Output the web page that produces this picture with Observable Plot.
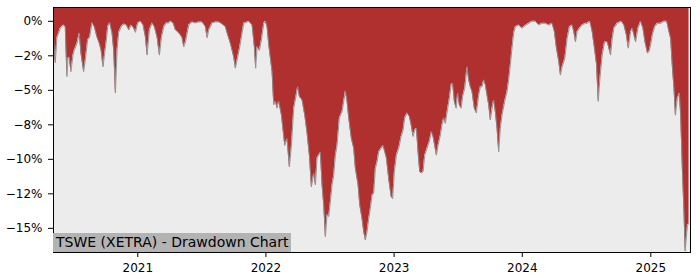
<!DOCTYPE html>
<html><head><meta charset="utf-8">
<script src="https://cdn.jsdelivr.net/npm/d3@7"></script>
<script src="https://cdn.jsdelivr.net/npm/@observablehq/plot@0.6"></script>
<style>
html,body{margin:0;padding:0;background:#fff;}
#chart{position:relative;width:700px;height:280px;}
#chart svg{position:absolute;left:0;top:0;}
#label{position:absolute;left:53px;top:233px;height:19px;line-height:19px;padding:0 3px;background:#b3b3b3;font-family:"DejaVu Sans";font-size:14px;color:#000;white-space:nowrap;z-index:2;}
</style></head><body>
<div id="chart"><div id="label">TSWE (XETRA) - Drawdown Chart</div></div>
<script>
// Dates as decimal years
const years = [
2020.345,2020.358,2020.371,2020.384,2020.397,2020.423,2020.436,2020.449,2020.457,2020.467,
2020.480,2020.496,2020.506,2020.527,2020.545,2020.558,2020.579,2020.592,2020.610,2020.626,
2020.644,2020.662,2020.683,2020.701,2020.715,2020.730,2020.743,2020.756,2020.766,2020.782,
2020.800,2020.813,2020.826,2020.839,2020.852,2020.871,2020.891,2020.912,2020.930,2020.949,
2020.969,2020.982,2021.000,2021.021,2021.042,2021.060,2021.073,2021.091,2021.112,2021.130,
2021.151,2021.169,2021.185,2021.203,2021.222,2021.242,2021.255,2021.276,2021.294,2021.315,
2021.333,2021.346,2021.359,2021.372,2021.398,2021.424,2021.450,2021.476,2021.502,2021.528,
2021.541,2021.554,2021.580,2021.606,2021.632,2021.658,2021.684,2021.697,2021.723,2021.749,
2021.762,2021.775,2021.796,2021.814,2021.827,2021.853,2021.866,2021.892,2021.910,2021.920,
2021.931,2021.949,2021.965,2021.983,2021.996,2022.009,2022.022,2022.030,2022.048,2022.061,
2022.074,2022.087,2022.100,2022.121,2022.147,2022.165,2022.183,2022.199,2022.217,2022.236,
2022.248,2022.261,2022.282,2022.303,2022.321,2022.339,2022.355,2022.373,2022.386,2022.399,
2022.412,2022.425,2022.438,2022.451,2022.464,2022.477,2022.490,2022.503,2022.516,2022.529,
2022.542,2022.555,2022.573,2022.594,2022.607,2022.620,2022.633,2022.646,2022.667,2022.685,
2022.698,2022.719,2022.732,2022.750,2022.763,2022.776,2022.789,2022.802,2022.815,2022.828,
2022.841,2022.854,2022.867,2022.880,2022.899,2022.914,2022.927,2022.940,2022.958,2022.977,
2022.989,2023.002,2023.018,2023.036,2023.055,2023.070,2023.083,2023.101,2023.119,2023.133,
2023.148,2023.161,2023.174,2023.187,2023.200,2023.213,2023.226,2023.239,2023.257,2023.275,
2023.291,2023.304,2023.317,2023.330,2023.343,2023.361,2023.374,2023.387,2023.400,2023.418,
2023.431,2023.445,2023.457,2023.470,2023.484,2023.496,2023.509,2023.523,2023.535,2023.551,
2023.569,2023.582,2023.595,2023.608,2023.626,2023.642,2023.660,2023.673,2023.686,2023.699,
2023.712,2023.725,2023.738,2023.751,2023.764,2023.777,2023.790,2023.803,2023.816,2023.829,
2023.842,2023.863,2023.881,2023.894,2023.907,2023.920,2023.933,2023.946,2023.972,2023.998,
2024.024,2024.050,2024.076,2024.102,2024.128,2024.154,2024.180,2024.206,2024.232,2024.250,
2024.266,2024.284,2024.297,2024.310,2024.331,2024.349,2024.367,2024.388,2024.401,2024.414,
2024.427,2024.445,2024.466,2024.492,2024.505,2024.526,2024.544,2024.562,2024.578,2024.591,
2024.604,2024.622,2024.640,2024.661,2024.674,2024.687,2024.700,2024.713,2024.739,2024.771,
2024.791,2024.810,2024.825,2024.843,2024.856,2024.869,2024.882,2024.900,2024.921,2024.939,
2024.955,2024.974,2024.986,2024.999,2025.012,2025.030,2025.052,2025.077,2025.103,2025.124,
2025.142,2025.155,2025.169,2025.181,2025.192,2025.207,2025.223,2025.233,2025.247,2025.259,
2025.268,2025.286,2025.298
];
// Drawdown in percent
const drawdown = [
-1.3,-3.0,-1.2,-0.85,-0.5,-0.27,-0.4,-4.0,-2.65,-2.6,
-3.65,-2.45,-2.1,-1.6,-0.85,-2.3,-3.65,-2.8,-1.35,-1.15,
-0.1,-0.4,-1.15,-1.6,-2.1,-3.3,-2.3,-1.35,-0.4,-0.1,
-0.85,-2.1,-5.2,-2.1,-0.8,-0.4,-0.2,-0.27,-0.63,-0.27,
-0.5,-0.8,-0.12,0,-0.27,-1.15,-2.45,-0.63,-0.12,-0.4,
-1.15,-2.45,-1.15,-0.4,-0.12,-0.12,0,-0.12,-0.63,-0.8,
-1.0,-1.2,-1.85,-1.5,-0.27,-0.05,-0.12,-0.05,-0.05,-0.4,
-1.2,-0.63,-0.12,-0.05,-0.05,-0.2,-0.4,-0.85,-1.6,-2.6,
-3.4,-2.8,-1.85,-0.85,-0.15,-0.05,0,-0.27,-1.85,-3.4,
-1.85,-2.1,-1.35,-0.15,0,-0.4,-1.7,-2.3,-3.65,-6.05,
-5.8,-6.3,-5.8,-6.8,-9.0,-8.5,-10.55,-9.0,-6.3,-5.35,
-4.75,-5.45,-5.7,-6.8,-8.1,-9.7,-12.0,-11.0,-11.85,-9.9,
-9.7,-9.5,-11.85,-13.3,-15.6,-14.0,-14.15,-13.05,-11.85,-11.15,
-9.7,-9.0,-7.0,-6.55,-5.8,-5.05,-5.8,-7.0,-8.5,-9.2,
-10.65,-11.85,-13.3,-14.3,-15.25,-15.85,-15.25,-14.3,-13.55,-12.6,
-12.45,-10.65,-10.2,-9.45,-9.2,-9.0,-9.45,-9.9,-11.4,-12.7,
-12.85,-10.9,-9.7,-9.2,-8.35,-7.9,-7.0,-6.65,-6.9,-7.5,
-8.35,-7.9,-7.75,-9.45,-10.9,-11.0,-10.9,-9.7,-9.2,-8.7,
-8.0,-8.35,-9.0,-9.7,-9.0,-8.25,-7.5,-7.0,-7.4,-6.3,
-5.6,-4.6,-4.5,-5.8,-6.3,-5.2,-6.05,-6.3,-5.45,-4.85,
-3.3,-4.25,-4.75,-5.1,-6.3,-6.65,-5.35,-4.75,-4.75,-4.25,
-4.6,-5.35,-6.05,-7.15,-6.3,-5.7,-6.55,-7.75,-9.45,-7.75,
-6.8,-5.8,-5.1,-4.25,-3.15,-1.95,-0.85,-0.4,-0.27,-0.5,
-0.3,-0.15,0,0,-0.27,-0.15,-0.15,-0.27,-0.15,-0.75,
-1.95,-2.9,-3.9,-3.3,-2.7,-1.25,-0.4,-0.27,-0.75,-1.5,
-0.75,-0.5,-0.27,-0.15,-0.15,0,-0.75,-1.95,-3.15,-5.8,
-4.15,-2.45,-1.5,-1.5,-1.95,-2.45,-1.25,-0.5,-0.15,0,
-0.27,-1.0,-1.95,-0.75,-0.5,-1.0,-1.5,-0.5,0,-0.5,
-1.5,-2.3,-2.2,-1.7,-1.0,-0.4,-0.15,-0.15,0,0,
-0.75,-1.25,-3.4,-4.85,-6.8,-5.6,-5.2,-6.8,-10.9,-13.8,
-16.65,-14.75,-14.65
];
const xTickYears = [2021, 2022, 2023, 2024, 2025];
const yTicks = [0, -2.5, -5, -7.5, -10, -12.5, -15];
const yTickLabels = ["0%", "−2%", "−5%", "−8%", "−10%", "−12%", "−15%"];
const yMin = -16.75, yMax = 1.0;
const xStart = "2020-05-06", xEnd = "2025-04-24";

function fromDecimalYear(y) {
  const yr = Math.floor(y);
  const s = Date.UTC(yr, 0, 1), e = Date.UTC(yr + 1, 0, 1);
  return new Date(s + (y - yr) * (e - s));
}
const data = years.map((y, i) => ({date: fromDecimalYear(y), dd: drawdown[i]}));
const yLabelMap = new Map(yTicks.map((t, i) => [t, yTickLabels[i]]));

const chart = Plot.plot({
  width: 700, height: 280,
  marginLeft: 53, marginRight: 10, marginTop: 7, marginBottom: 28,
  style: {fontFamily: "DejaVu Sans", fontSize: "12px", background: "white", color: "#000"},
  x: {type: "utc", domain: [new Date(xStart), new Date(xEnd)]},
  y: {domain: [yMin, yMax]},
  marks: [
    Plot.frame({fill: "#ececec", stroke: null}),
    Plot.areaY(data, {x: "date", y1: () => yMax, y2: "dd", fill: "#b03030"}),
    Plot.line(data, {x: "date", y: "dd", stroke: "#8c8c8c", strokeWidth: 0.9}),
    Plot.frame({stroke: "#000", strokeWidth: 1}),
    Plot.axisX({ticks: xTickYears.map(y => new Date(Date.UTC(y, 0, 1))), tickFormat: d => String(d.getUTCFullYear()), tickSize: 5, tickPadding: 6, label: null, fontSize: 12}),
    Plot.axisY({ticks: yTicks, tickFormat: d => yLabelMap.get(d), tickSize: 5, tickPadding: 6, label: null, fontSize: 12})
  ]
});
document.getElementById("chart").insertBefore(chart, document.getElementById("label"));
</script>
</body></html>
